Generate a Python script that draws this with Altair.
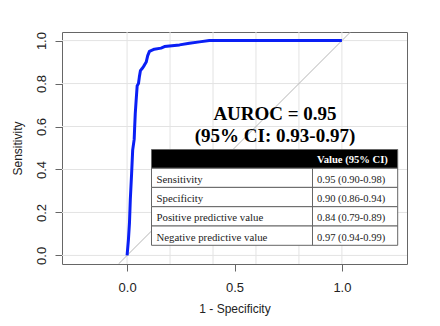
import altair as alt
import pandas as pd

# ---------------- data ----------------
fpr = [0.0, 0.006, 0.011, 0.015, 0.021, 0.026, 0.033, 0.035, 0.038, 0.042, 0.047,
       0.053, 0.057, 0.062, 0.070, 0.077, 0.089, 0.096, 0.104, 0.127, 0.158, 0.174,
       0.197, 0.244, 0.290, 0.337, 0.383, 1.0]
tpr = [0.0, 0.07, 0.15, 0.26, 0.38, 0.49, 0.54, 0.59, 0.66, 0.72, 0.79,
       0.80, 0.83, 0.86, 0.87, 0.88, 0.90, 0.93, 0.95, 0.96, 0.965, 0.972,
       0.975, 0.98, 0.988, 0.994, 1.0, 1.0]
grid_vals = [0.0, 0.2, 0.4, 0.6, 0.8, 1.0]
x_ticks = [0.0, 0.5, 1.0]
y_ticks = [0.0, 0.2, 0.4, 0.6, 0.8, 1.0]
row_labels = ["Sensitivity", "Specificity", "Positive predictive value", "Negative predictive value"]
row_values = ["0.95 (0.90-0.98)", "0.90 (0.86-0.94)", "0.84 (0.79-0.89)", "0.97 (0.94-0.99)"]
header_text = "Value (95% CI)"
auroc_lines = ["AUROC = 0.95", "(95% CI: 0.93-0.97)"]

# ---------------- layout ----------------
W, H = 345, 232
XD = [-0.303, 1.303]
YD = [-0.04, 1.04]


def px_x(p):
    return XD[0] + p / W * (XD[1] - XD[0])


def px_y(p):
    return YD[1] - p / H * (YD[1] - YD[0])


xs = alt.Scale(domain=XD, nice=False, zero=False)
ys = alt.Scale(domain=YD, nice=False, zero=False)

SANS = "Liberation Sans"
SERIF = "Liberation Serif"

curve_df = pd.DataFrame({"fpr": fpr, "tpr": tpr, "order": list(range(len(fpr)))})

base_axes = alt.Chart(curve_df).mark_line(strokeWidth=0, opacity=0).encode(
    x=alt.X("fpr:Q", scale=xs, title="1 - Specificity",
            axis=alt.Axis(values=x_ticks, format=".1f", grid=False, domain=False,
                          tickSize=7, tickColor="#666", labelFont=SANS, labelFontSize=13,
                          labelColor="#222", labelPadding=10, titleFont=SANS,
                          titleFontSize=12, titleFontWeight="normal", titleColor="#222",
                          titleBaseline="alphabetic", titleY=48, labelFlush=False)),
    y=alt.Y("tpr:Q", scale=ys, title="Sensitivity",
            axis=alt.Axis(values=y_ticks, format=".1f", grid=False, domain=False,
                          tickSize=7, tickColor="#666", labelFont=SANS, labelFontSize=13,
                          labelColor="#222", labelPadding=10, labelAngle=270,
                          labelAlign="center", labelBaseline="alphabetic", labelFlush=False,
                          titleFont=SANS, titleFontSize=12, titleFontWeight="normal",
                          titleColor="#222", titleAngle=270, titleAlign="center",
                          titleBaseline="alphabetic", titleX=-41, titleY=H / 2)),
)

vgrid = alt.Chart(pd.DataFrame({"g": grid_vals})).mark_rule(color="#e3e3e3", strokeWidth=1).encode(
    x=alt.X("g:Q", scale=xs))
hgrid = alt.Chart(pd.DataFrame({"g": grid_vals})).mark_rule(color="#e3e3e3", strokeWidth=1).encode(
    y=alt.Y("g:Q", scale=ys))

diag = alt.Chart(pd.DataFrame({"d": [YD[0], YD[1]]})).mark_line(
    color="#b5b5b5", strokeWidth=1, clip=True).encode(
    x=alt.X("d:Q", scale=xs), y=alt.Y("d:Q", scale=ys))

curve = alt.Chart(curve_df).mark_line(color="#0a1ff5", strokeWidth=3, strokeJoin="round").encode(
    x=alt.X("fpr:Q", scale=xs), y=alt.Y("tpr:Q", scale=ys), order="order:Q")

# AUROC annotation
auc_df = pd.DataFrame({
    "t": auroc_lines,
    "x": [px_x(213), px_x(213)],
    "y": [px_y(88), px_y(109.7)],
})
auc_text = alt.Chart(auc_df).mark_text(
    font=SERIF, fontSize=19, fontWeight="bold", color="#000", align="center",
    baseline="alphabetic").encode(
    x=alt.X("x:Q", scale=xs), y=alt.Y("y:Q", scale=ys), text="t:N")

# Table
T_LEFT, T_RIGHT, T_DIV = 89.5, 335.7, 250.5
T_TOP, HEAD_H, ROW_H = 117.5, 18.6, 19.3
row_tops = [T_TOP + HEAD_H + i * ROW_H for i in range(len(row_labels))]
rows_df = pd.DataFrame({
    "x0": [px_x(T_LEFT)] * len(row_labels),
    "x1": [px_x(T_RIGHT)] * len(row_labels),
    "y0": [px_y(t) for t in row_tops],
    "y1": [px_y(t + ROW_H) for t in row_tops],
})
row_rects = alt.Chart(rows_df).mark_rect(fill="white", stroke="#666", strokeWidth=1).encode(
    x=alt.X("x0:Q", scale=xs), x2="x1:Q", y=alt.Y("y0:Q", scale=ys), y2="y1:Q")

head_df = pd.DataFrame({"x0": [px_x(T_LEFT)], "x1": [px_x(T_RIGHT)],
                        "y0": [px_y(T_TOP)], "y1": [px_y(T_TOP + HEAD_H)]})
head_rect = alt.Chart(head_df).mark_rect(fill="black", stroke="#666", strokeWidth=1).encode(
    x=alt.X("x0:Q", scale=xs), x2="x1:Q", y=alt.Y("y0:Q", scale=ys), y2="y1:Q")

div_df = pd.DataFrame({"x": [px_x(T_DIV)], "y0": [px_y(T_TOP + HEAD_H)],
                       "y1": [px_y(T_TOP + HEAD_H + ROW_H * len(row_labels))]})
divider = alt.Chart(div_df).mark_rule(color="#666", strokeWidth=1).encode(
    x=alt.X("x:Q", scale=xs), y=alt.Y("y0:Q", scale=ys), y2="y1:Q")

lab_df = pd.DataFrame({
    "t": row_labels,
    "x": [px_x(T_LEFT + 5)] * len(row_labels),
    "y": [px_y(t + 14.5) for t in row_tops],
})
lab_text = alt.Chart(lab_df).mark_text(
    font=SERIF, fontSize=10.8, color="#222", align="left", baseline="alphabetic").encode(
    x=alt.X("x:Q", scale=xs), y=alt.Y("y:Q", scale=ys), text="t:N")

val_df = pd.DataFrame({
    "t": row_values,
    "x": [px_x(T_DIV + 4.5)] * len(row_values),
    "y": [px_y(t + 14.5) for t in row_tops],
})
val_text = alt.Chart(val_df).mark_text(
    font=SERIF, fontSize=10.5, color="#222", align="left", baseline="alphabetic").encode(
    x=alt.X("x:Q", scale=xs), y=alt.Y("y:Q", scale=ys), text="t:N")

hd_df = pd.DataFrame({"t": [header_text], "x": [px_x(T_DIV + 4.5)], "y": [px_y(T_TOP + 13.3)]})
hd_text = alt.Chart(hd_df).mark_text(
    font=SERIF, fontSize=10.6, fontWeight="bold", color="white", align="left",
    baseline="alphabetic").encode(
    x=alt.X("x:Q", scale=xs), y=alt.Y("y:Q", scale=ys), text="t:N")

chart = alt.layer(
    vgrid, hgrid, base_axes, diag, curve, auc_text,
    row_rects, head_rect, divider, lab_text, val_text, hd_text
).properties(
    width=W, height=H,
    autosize=alt.AutoSizeParams(type="none"),
    padding={"left": 62, "top": 32, "right": 33, "bottom": 62},
    background="white",
).configure_view(stroke="#666", strokeWidth=1)

chart.save("out.html", embed_options={"renderer": "svg", "actions": False})
